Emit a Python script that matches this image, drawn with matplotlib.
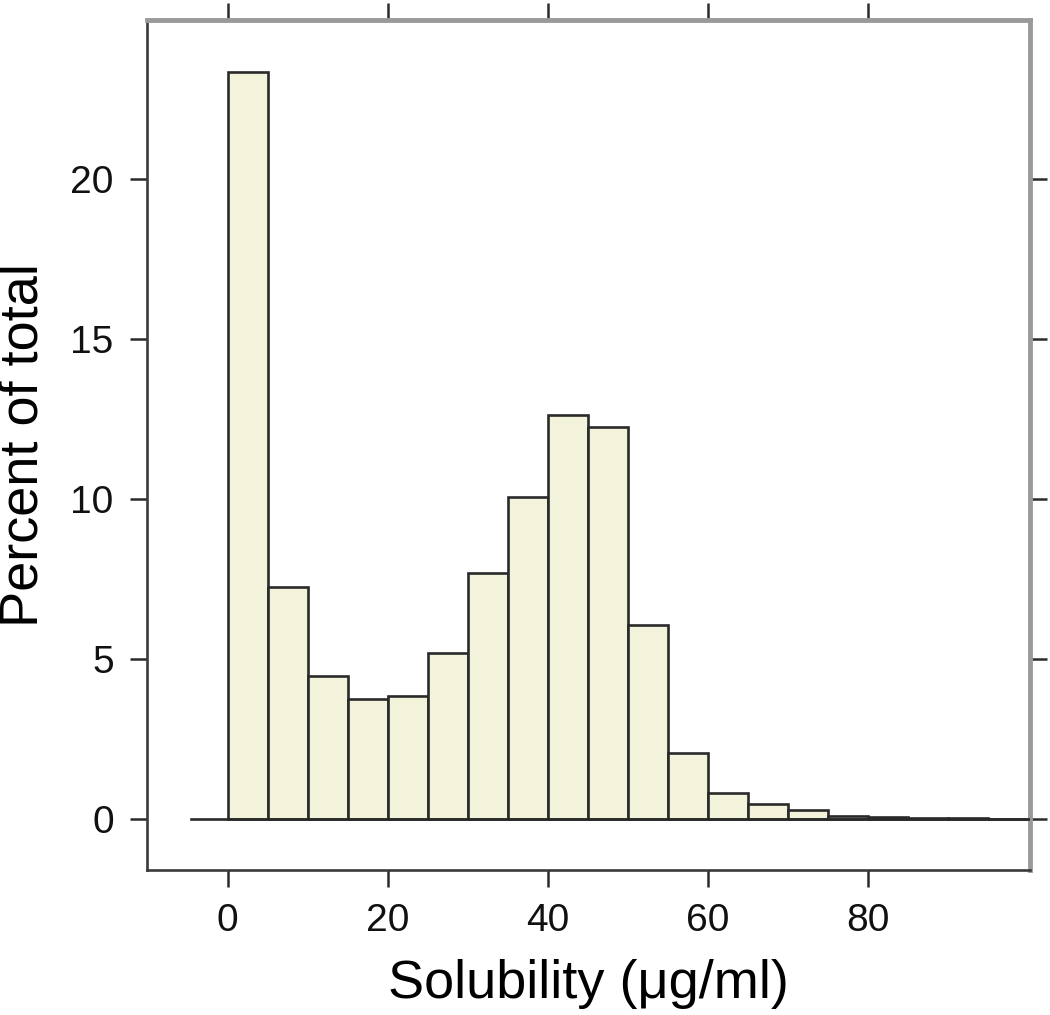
import matplotlib.pyplot as plt
import numpy as np

plt.rcParams['font.family'] = ['Liberation Sans', 'DejaVu Sans']

# histogram bins (5 ug/ml wide) and percent of total
bin_edges = [0, 5, 10, 15, 20, 25, 30, 35, 40, 45, 50, 55, 60, 65, 70, 75, 80, 85, 90, 95, 100]
percent = [23.34, 7.24, 4.47, 3.75, 3.85, 5.20, 7.69, 10.05, 12.62, 12.24,
           6.08, 2.07, 0.82, 0.46, 0.29, 0.10, 0.06, 0.02, 0.02, 0.01]
xticks = [0, 20, 40, 60, 80]
yticks = [0, 5, 10, 15, 20]

fill = "#F3F3DC"
edge = "#2a2a2a"

fig = plt.figure(figsize=(10.5, 10.15), dpi=100)
ax = fig.add_axes([0.140, 0.1429, 0.841, 0.8374])

left = np.array(bin_edges[:-1])
widths = np.diff(bin_edges)
ax.bar(left, percent, width=widths, align='edge', color=fill,
       edgecolor=edge, linewidth=1.9, zorder=2)

# lattice-style reference line at zero
ax.plot([-4.6, 101], [0, 0], color=edge, linewidth=1.9, zorder=3, clip_on=True)

ax.set_xlim(-10.1, 100.3)
ax.set_ylim(-1.59, 24.97)

ax.set_xticks(xticks)
ax.set_yticks(yticks)
ax.tick_params(axis='both', direction='out', length=12, width=1.8, color='#2a2a2a',
               labelsize=28, pad=12, top=True, right=True,
               labeltop=False, labelright=False, labelcolor='#111111')

for side in ['left', 'bottom']:
    ax.spines[side].set_color('#3a3a3a')
    ax.spines[side].set_linewidth(1.9)
for side in ['top', 'right']:
    ax.spines[side].set_color('#9a9a9a')
    ax.spines[side].set_linewidth(3.5)

ax.set_xlabel('Solubility (\u03bcg/ml)', fontsize=39, labelpad=14)
ax.set_ylabel('Percent of total', fontsize=39, labelpad=16)

fig.savefig('out.png', dpi=100)
